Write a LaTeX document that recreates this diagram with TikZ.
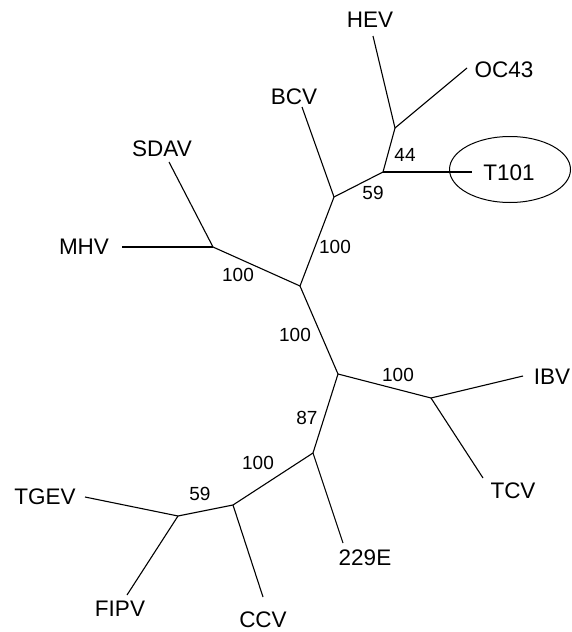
\documentclass[tikz,border=0pt]{standalone}
\usepackage{fontspec}
\setmainfont{Liberation Sans}
\usetikzlibrary{shapes.geometric}
\begin{document}
\begin{tikzpicture}[x=1pt,y=-1pt,
  branch/.style={line width=1.1pt,black},
  leaf/.style={font=\fontsize{22.5}{26}\selectfont,inner sep=0pt,anchor=center},
  boot/.style={font=\fontsize{19}{22}\selectfont,inner sep=0pt,anchor=center}]
\useasboundingbox (0,0) rectangle (572,632);
% internal junctions
\coordinate (A) at (300,286);
\coordinate (B) at (334,197);
\coordinate (C) at (383,172);
\coordinate (D) at (395,128);
\coordinate (E) at (213,247);
\coordinate (F) at (338,374);
\coordinate (G) at (431,398);
\coordinate (H) at (313,453);
\coordinate (I) at (233,505);
\coordinate (J) at (178,516);
% leaf ends
\coordinate (hev) at (373,36);
\coordinate (oc43) at (467,68);
\coordinate (t101) at (472,172);
\coordinate (bcv) at (302,107);
\coordinate (sdav) at (169,162);
\coordinate (mhv) at (122,247);
\coordinate (ibv) at (523,376);
\coordinate (tcv) at (483,478);
\coordinate (e229) at (343,543);
\coordinate (ccv) at (263,597);
\coordinate (fipv) at (127,595);
\coordinate (tgev) at (85,497);
% tree
\draw[branch] (A) -- (B) -- (C) -- (D);
\draw[branch] (D) -- (hev);
\draw[branch] (D) -- (oc43);
\draw[branch] (C) -- (t101);
\draw[branch] (B) -- (bcv);
\draw[branch] (A) -- (E);
\draw[branch] (E) -- (sdav);
\draw[branch] (E) -- (mhv);
\draw[branch] (A) -- (F);
\draw[branch] (F) -- (G);
\draw[branch] (G) -- (ibv);
\draw[branch] (G) -- (tcv);
\draw[branch] (F) -- (H);
\draw[branch] (H) -- (e229);
\draw[branch] (H) -- (I);
\draw[branch] (I) -- (ccv);
\draw[branch] (I) -- (J);
\draw[branch] (J) -- (fipv);
\draw[branch] (J) -- (tgev);
% leaf labels
\node[leaf] (lhev) at (370,20) {HEV};
\node[leaf] (loc43) at (504,70) {OC43};
\node[leaf] (lt101) at (509,173) {T101};
\node[draw,line width=1pt,ellipse,minimum width=121pt,minimum height=66pt,inner sep=0pt] (ring) at (510,169.5) {};
\node[leaf] (lbcv) at (294,97) {BCV};
\node[leaf] (lsdav) at (162,149) {SDAV};
\node[leaf] (lmhv) at (84,247) {MHV};
\node[leaf] (libv) at (552,377) {IBV};
\node[leaf] (ltcv) at (513,491) {TCV};
\node[leaf] (l229) at (365,558) {229E};
\node[leaf] (lccv) at (263,620) {CCV};
\node[leaf] (lfipv) at (120,609) {FIPV};
\node[leaf] (ltgev) at (45,497) {TGEV};
% bootstrap values
\node[boot] (b1) at (405,155) {44};
\node[boot] (b2) at (373,193) {59};
\node[boot] (b3) at (238,275) {100};
\node[boot] (b4) at (335,247) {100};
\node[boot] (b5) at (295,335) {100};
\node[boot] (b6) at (398,375) {100};
\node[boot] (b7) at (307,418) {87};
\node[boot] (b8) at (258,463) {100};
\node[boot] (b9) at (200,494) {59};
\end{tikzpicture}
\end{document}
